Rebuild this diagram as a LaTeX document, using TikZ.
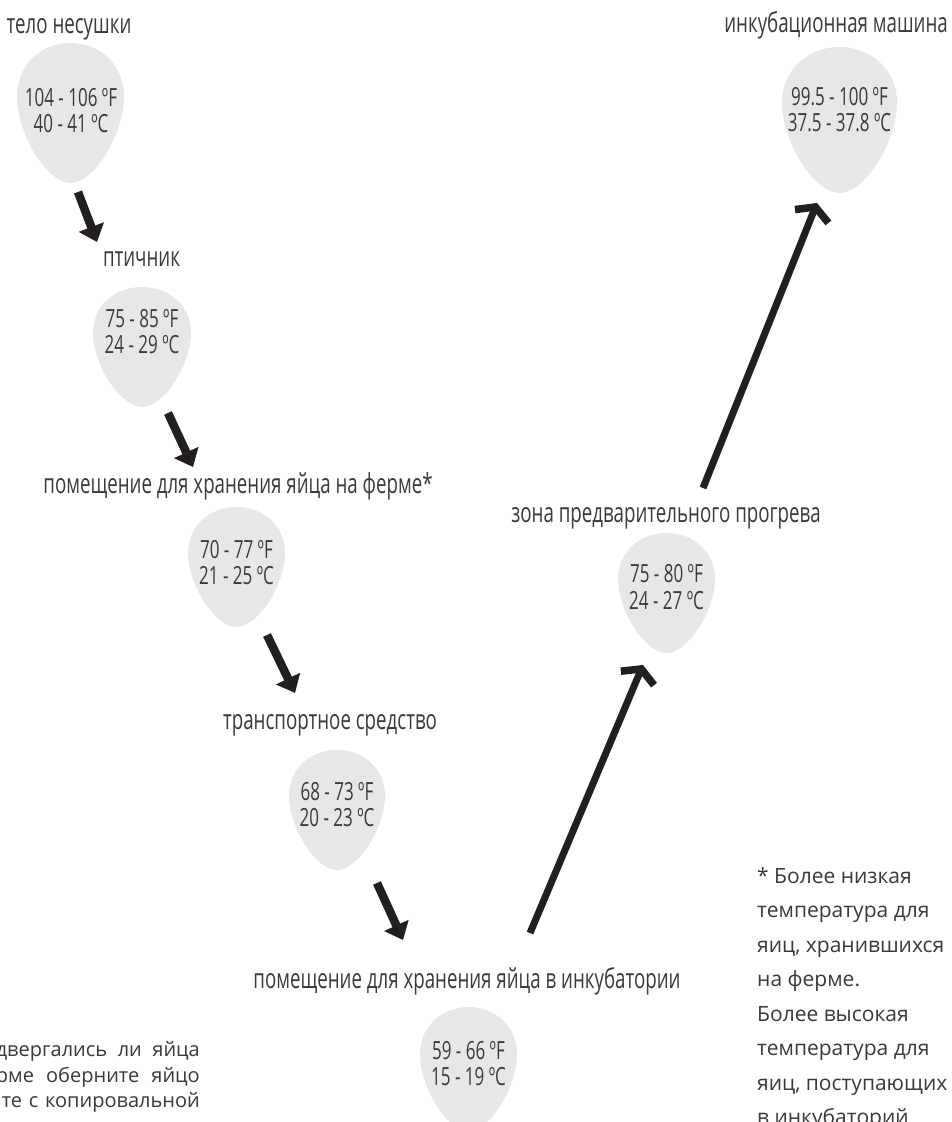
\documentclass[tikz,border=0pt]{standalone}
\usepackage{fontspec}
\setmainfont{Open Sans}
\newfontfamily\condfont[FakeStretch=0.68]{Open Sans}
\usetikzlibrary{arrows.meta}
\definecolor{eggc}{HTML}{E6E7E8}
\definecolor{inkc}{HTML}{231F20}
\definecolor{txtc}{HTML}{3A3A3A}
\tikzset{
  lbl/.style={anchor=base, inner sep=0pt, text=txtc, font=\condfont\fontsize{27.5}{27.5}\selectfont},
  tmp/.style={anchor=base, inner sep=0pt, text=txtc, font=\condfont\fontsize{25}{25}\selectfont},
  note/.style={anchor=base west, inner sep=0pt, text=txtc, font=\fontsize{21}{21}\selectfont},
  leftnote/.style={anchor=base east, inner sep=0pt, text=txtc, font=\fontsize{20}{20}\selectfont},
  shortarrow/.style={draw=inkc, line width=8.5pt, -{Triangle[length=16pt,width=26pt]}},
  longarrow/.style={draw=inkc, line width=7pt, -{Straight Barb[length=10pt,width=36pt,line width=7.5pt]}},
}
\newcommand{\eggshape}[5]{%
  \fill[eggc, shift={({#2-#4/2},#3)}, xscale=#4, yscale=#5]
    (0.5,0) .. controls (0.78,0) and (1,0.16) .. (1,0.38)
    .. controls (1,0.65) and (0.72,1) .. (0.5,1)
    .. controls (0.28,1) and (0,0.65) .. (0,0.38)
    .. controls (0,0.16) and (0.22,0) .. cycle;
  \coordinate (#1) at (#2,{#3+#5/2});
}
\begin{document}
\begin{tikzpicture}[x=1pt,y=-1pt]
\useasboundingbox (0,0) rectangle (951,1122);
\clip (0,0) rectangle (951,1122);
\fill[white] (0,0) rectangle (951,1122);

% eggs
\eggshape{e1}{70.5}{43}{107}{140}
\eggshape{e2}{142}{287}{98}{120}
\eggshape{e3}{236.5}{507}{97}{120}
\eggshape{e4}{337}{750}{96}{120}
\eggshape{e5}{468.5}{1007}{97}{124}
\eggshape{e6}{666.5}{533}{97}{120}
\eggshape{e7}{839.5}{47}{115}{146}

% labels
\node[lbl] (l1) at (69,33) {тело несушки};
\node[lbl] (l2) at (141.5,266) {птичник};
\node[lbl] (l3) at (238,493) {помещение для хранения яйца на ферме*};
\node[lbl] (l4) at (330,729) {транспортное средство};
\node[lbl] (l5) at (467,988) {помещение для хранения яйца в инкубатории};
\node[lbl] (l6) at (666,522) {зона предварительного прогрева};
\node[lbl, anchor=base east] (l7) at (948,32) {инкубационная машина};

% temperatures
\node[tmp] (t1f) at (71,106) {104 - 106 ºF};
\node[tmp] (t1c) at (71,132) {40 - 41 ºC};
\node[tmp] (t2f) at (142,327) {75 - 85 ºF};
\node[tmp] (t2c) at (142,353) {24 - 29 ºC};
\node[tmp] (t3f) at (236.5,558) {70 - 77 ºF};
\node[tmp] (t3c) at (236.5,584) {21 - 25 ºC};
\node[tmp] (t4f) at (337,800) {68 - 73 ºF};
\node[tmp] (t4c) at (337,826) {20 - 23 ºC};
\node[tmp] (t5f) at (468.5,1059) {59 - 66 ºF};
\node[tmp] (t5c) at (468.5,1085) {15 - 19 ºC};
\node[tmp] (t6f) at (666.5,582) {75 - 80 ºF};
\node[tmp] (t6c) at (666.5,609) {24 - 27 ºC};
\node[tmp] (t7f) at (839.5,105) {99.5 - 100 ºF};
\node[tmp] (t7c) at (839.5,131) {37.5 - 37.8 ºC};

% arrow ends
\coordinate (a1s) at (78,192);   \coordinate (a1e) at (97,242);
\coordinate (a2s) at (168,413);  \coordinate (a2e) at (193,467);
\coordinate (a3s) at (267,635);  \coordinate (a3e) at (295,693);
\coordinate (a4s) at (377,883);  \coordinate (a4e) at (403,940);
\coordinate (a5s) at (530,933);  \coordinate (a5e) at (643,665);
\coordinate (a6s) at (703,488);  \coordinate (a6e) at (817,203);
\draw[shortarrow] (a1s) -- (a1e);
\draw[shortarrow] (a2s) -- (a2e);
\draw[shortarrow] (a3s) -- (a3e);
\draw[shortarrow] (a4s) -- (a4e);
\draw[longarrow] (a5s) -- (a5e);
\draw[longarrow] (a6s) -- (a6e);

% footnote right
\node[note] (f1) at (757,883) {* Более низкая};
\node[note] (f2) at (757,917.5) {температура для};
\node[note] (f3) at (757,952) {яиц, хранившихся};
\node[note] (f4) at (757,986.5) {на ферме.};
\node[note] (f5) at (757,1021) {Более высокая};
\node[note] (f6) at (757,1055.5) {температура для};
\node[note] (f7) at (757,1090) {яиц, поступающих};
\node[note] (f8) at (757,1124.5) {в инкубаторий};

% note left (cut by the left edge)
\node[leftnote] (g1) at (200,1056) {\makebox[204pt][s]{двергались ли яйца}};
\node[leftnote] (g2) at (200,1082) {\makebox[204pt][s]{рме оберните яйцо}};
\node[leftnote] (g3) at (200,1107) {\makebox[198pt][s]{те с копировальной}};
\end{tikzpicture}
\end{document}
